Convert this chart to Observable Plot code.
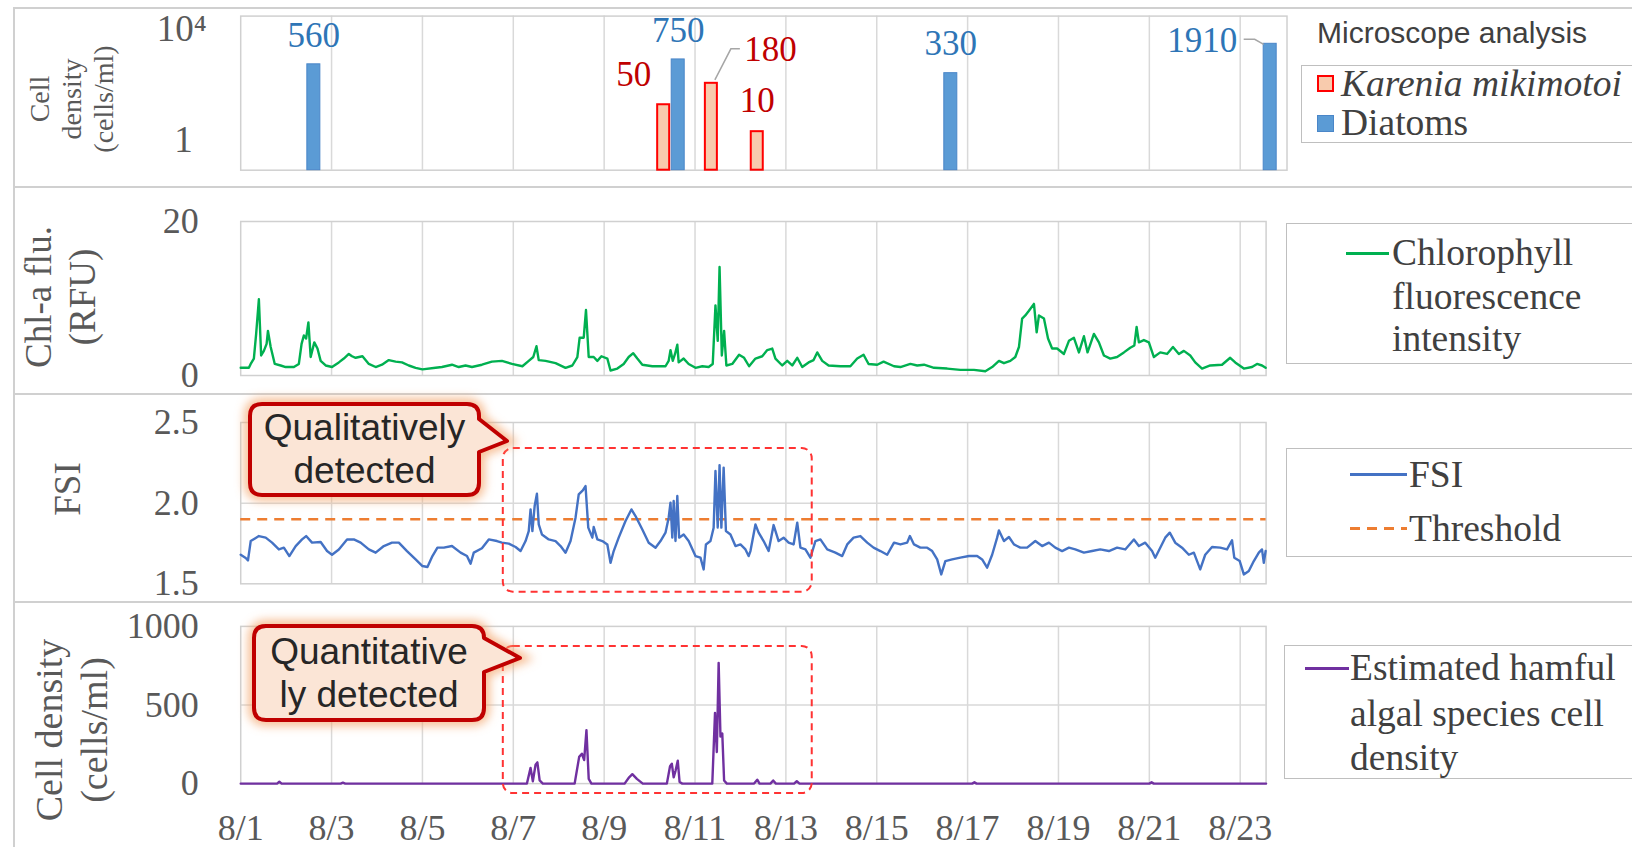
<!DOCTYPE html>
<html><head><meta charset="utf-8">
<script src="https://cdn.jsdelivr.net/npm/d3@7"></script>
<script src="https://cdn.jsdelivr.net/npm/@observablehq/plot@0.6"></script>
<style>
body{margin:0;background:#fff;}
#root{position:relative;width:1632px;height:847px;overflow:hidden;background:#fff;font-family:"Liberation Serif",serif;}
#root svg{position:absolute;left:0;}
.hl{position:absolute;left:13px;width:1640px;height:0;border-top:2px solid #d0d0d0;}
.vl{position:absolute;left:13px;top:8px;width:0;height:860px;border-left:2px solid #d0d0d0;}
.box{position:absolute;border:1.5px solid #bfbfbf;background:#fff;box-sizing:border-box;}
.t{position:absolute;white-space:nowrap;color:#404040;font-size:37.5px;line-height:1;transform:translateY(-50%);}
.ttl{position:absolute;white-space:nowrap;color:#595959;text-align:center;transform:translate(-50%,-50%) rotate(-90deg);}
.sw{position:absolute;box-sizing:border-box;}
</style></head>
<body><div id="root"></div>
<script>
// ---------------- data ----------------
const xTicks = [0,2,4,6,8,10,12,14,16,18,20,22];
const xTickLabels = ["8/1","8/3","8/5","8/7","8/9","8/11","8/13","8/15","8/17","8/19","8/21","8/23"];
const gridDays = [2,4,6,8,10,12,14,16,18,20,22];

// Microscope analysis (days after 8/1 00:00, cells/ml)
const diatomDay = [1.61, 9.63, 15.63, 22.66];
const diatomVal = [560, 750, 330, 1910];
const kareniaDay = [9.31, 10.36, 11.37];
const kareniaVal = [50, 180, 10];

// Chlorophyll fluorescence (RFU)
const chlDay = [0,0.18,0.22,0.29,0.34,0.40,0.45,0.51,0.57,0.60,0.66,0.75,0.88,0.99,1.17,1.28,1.34,1.39,1.44,1.49,1.54,1.62,1.69,1.76,1.87,2.01,2.16,2.27,2.38,2.45,2.53,2.68,2.82,2.97,3.11,3.26,3.41,3.55,3.70,3.85,4.00,4.29,4.43,4.65,4.80,4.95,5.09,5.31,5.53,5.75,5.97,6.20,6.34,6.44,6.51,6.56,6.71,6.93,7.15,7.30,7.41,7.46,7.55,7.60,7.66,7.77,7.85,7.94,8.07,8.14,8.29,8.43,8.54,8.64,8.73,8.84,9.06,9.35,9.42,9.46,9.51,9.56,9.61,9.64,9.75,9.86,10.01,10.16,10.30,10.39,10.45,10.50,10.54,10.59,10.64,10.69,10.82,10.97,11.08,11.19,11.33,11.48,11.59,11.70,11.77,11.92,12.03,12.14,12.25,12.36,12.50,12.61,12.69,12.80,12.94,13.20,13.42,13.57,13.71,13.82,14.01,14.15,14.38,14.52,14.74,14.89,15.04,15.26,15.55,15.84,16.14,16.39,16.54,16.69,16.80,16.94,17.05,17.13,17.20,17.27,17.35,17.46,17.52,17.57,17.68,17.77,17.86,17.97,18.12,18.23,18.34,18.45,18.56,18.64,18.78,18.89,19.00,19.14,19.29,19.44,19.58,19.67,19.72,19.77,19.88,19.99,20.10,20.24,20.39,20.52,20.65,20.76,20.90,21.01,21.16,21.34,21.60,21.78,21.89,22.08,22.26,22.37,22.48,22.56];
const chlVal = [1.0,1.0,1.5,2.2,5.4,9.9,2.6,3.2,4.1,5.8,3.7,1.5,1.3,1.1,1.1,1.5,4.1,5.2,4.8,6.9,2.4,4.3,3.5,1.9,1.3,1.1,1.7,2.2,2.8,2.5,2.3,2.5,1.5,1.1,1.4,2.0,1.8,1.7,1.3,1.0,0.8,1.0,1.1,1.4,1.1,1.3,1.1,1.4,1.8,1.9,1.5,1.2,1.9,2.4,3.8,2.0,1.9,1.6,1.0,1.3,2.4,4.9,4.9,8.5,2.4,2.4,1.9,2.5,2.2,0.65,0.9,1.5,2.4,2.9,2.2,1.4,1.2,1.2,1.9,3.3,1.9,2.8,4.0,1.7,2.2,1.5,1.0,1.2,1.1,1.5,9.1,4.5,14.1,2.6,5.8,1.3,1.5,2.7,2.3,1.2,2.2,2.5,3.3,3.5,2.2,1.3,1.9,1.3,2.3,1.1,1.7,2.0,3.0,1.9,1.3,1.2,1.2,2.2,2.7,1.5,1.4,1.8,1.2,1.1,1.5,1.3,1.4,1.0,0.9,0.73,0.73,0.56,1.1,1.9,1.6,1.9,2.4,3.7,7.4,7.8,8.4,9.3,5.6,7.8,7.4,4.8,3.5,3.5,2.8,4.5,4.9,3.0,5.1,3.0,5.4,4.3,2.6,2.2,2.4,3.0,3.6,3.9,6.3,4.3,4.6,4.3,2.4,3.0,2.8,3.7,2.8,3.2,2.6,1.7,0.9,1.3,1.4,2.3,1.7,0.9,1.1,1.5,1.3,1.0];

// FSI
const fsiDay = [0,0.11,0.16,0.22,0.40,0.55,0.69,0.84,0.95,1.07,1.21,1.35,1.44,1.57,1.76,1.90,2.01,2.16,2.34,2.49,2.64,2.82,2.97,3.15,3.33,3.48,3.66,3.85,4.00,4.11,4.22,4.33,4.47,4.65,4.84,4.98,5.06,5.13,5.31,5.46,5.64,5.75,5.90,6.05,6.16,6.27,6.34,6.38,6.42,6.47,6.52,6.56,6.63,6.78,6.93,7.04,7.15,7.26,7.37,7.44,7.53,7.59,7.65,7.74,7.77,7.85,7.96,8.07,8.14,8.21,8.32,8.47,8.60,8.69,8.84,8.98,9.13,9.24,9.35,9.42,9.46,9.50,9.53,9.57,9.61,9.65,9.75,9.86,10.01,10.12,10.19,10.24,10.34,10.41,10.45,10.50,10.54,10.58,10.63,10.68,10.78,10.89,11.00,11.11,11.18,11.22,11.33,11.40,11.51,11.62,11.73,11.84,11.95,12.06,12.17,12.25,12.32,12.43,12.54,12.65,12.76,12.91,13.09,13.24,13.35,13.49,13.64,13.79,13.93,14.08,14.23,14.38,14.52,14.67,14.73,14.82,14.96,15.11,15.22,15.33,15.42,15.51,15.66,15.84,16.03,16.21,16.32,16.43,16.54,16.65,16.69,16.80,16.91,17.02,17.16,17.31,17.49,17.64,17.79,17.93,18.08,18.23,18.37,18.56,18.74,18.92,19.11,19.29,19.47,19.66,19.77,19.91,20.06,20.13,20.24,20.35,20.45,20.57,20.72,20.87,20.98,21.12,21.23,21.38,21.56,21.71,21.82,21.87,21.99,22.08,22.19,22.30,22.41,22.48,22.52,22.56];
const fsiVal = [1.68,1.66,1.645,1.765,1.796,1.786,1.755,1.713,1.724,1.672,1.734,1.775,1.796,1.755,1.759,1.703,1.68,1.713,1.775,1.775,1.755,1.713,1.693,1.734,1.755,1.755,1.703,1.651,1.61,1.604,1.672,1.724,1.724,1.734,1.693,1.672,1.625,1.693,1.72,1.775,1.765,1.755,1.749,1.728,1.703,1.765,1.827,1.961,1.827,1.982,2.058,1.868,1.806,1.775,1.765,1.734,1.693,1.765,1.91,2.054,2.079,2.106,1.848,1.786,1.852,1.775,1.765,1.744,1.63,1.703,1.786,1.889,1.961,1.92,1.837,1.755,1.724,1.765,1.817,1.91,2.003,1.786,2.013,1.765,2.044,1.786,1.806,1.765,1.672,1.662,1.589,1.744,1.765,1.848,2.199,1.848,2.236,1.848,2.22,1.827,1.806,1.734,1.744,1.713,1.672,1.703,1.868,1.817,1.765,1.703,1.864,1.765,1.786,1.755,1.744,1.879,1.724,1.713,1.662,1.765,1.775,1.713,1.693,1.672,1.744,1.786,1.796,1.755,1.724,1.703,1.68,1.755,1.744,1.755,1.796,1.744,1.724,1.724,1.703,1.651,1.558,1.641,1.651,1.662,1.672,1.672,1.651,1.6,1.68,1.786,1.831,1.765,1.79,1.744,1.724,1.724,1.765,1.734,1.755,1.724,1.703,1.724,1.713,1.693,1.703,1.713,1.703,1.724,1.713,1.775,1.734,1.755,1.703,1.662,1.724,1.786,1.817,1.755,1.724,1.68,1.693,1.589,1.68,1.728,1.724,1.713,1.77,1.662,1.641,1.558,1.579,1.641,1.693,1.713,1.63,1.703];
const fsiThreshold = 1.9;

// Estimated harmful algal species cell density (cells/ml)
const habDay = [0,0.80,0.85,0.90,2.20,2.25,2.30,6.30,6.38,6.43,6.49,6.53,6.58,6.65,7.35,7.45,7.51,7.56,7.61,7.66,7.72,8.45,8.55,8.62,8.72,8.85,9.38,9.45,9.49,9.53,9.57,9.62,9.66,9.72,10.38,10.44,10.48,10.52,10.56,10.60,10.64,10.70,11.30,11.37,11.42,11.66,11.72,11.78,12.18,12.24,12.30,16.10,16.15,16.20,20.00,20.05,20.10,22.57];
const habVal = [0,0,12,0,0,6,0,0,100,15,120,135,20,0,0,170,190,150,340,30,0,0,40,60,30,0,0,110,126,40,80,146,10,0,0,450,200,768,300,318,20,0,0,25,0,0,20,0,0,15,0,0,8,0,0,8,0,0];

// detection window of the dashed boxes (days after 8/1)
const detectWindow = [5.78, 12.58];

// ---------------- layout ----------------
const root = document.getElementById("root");
const X0 = 240.2;
const baseStyle = {fontFamily:"Liberation Serif, serif", fontSize:"36px", color:"#595959", background:"transparent", overflow:"visible"};
const gridCol = "#d9d9d9";
function place(svg, top){ svg.style.top = top + "px"; root.appendChild(svg); return svg; }

const bars = (days, vals) => days.map((d,i)=>({day:d, v:vals[i]}));
const diatoms = bars(diatomDay, diatomVal);
const karenia = bars(kareniaDay, kareniaVal);
const chl = chlDay.map((d,i)=>({day:d, v:chlVal[i]}));
const fsi = fsiDay.map((d,i)=>({day:d, v:fsiVal[i]}));
const hab = habDay.map((d,i)=>({day:d, v:habVal[i]}));

// frames of the panel blocks
for (const y of [8, 187, 393.5, 601.6]) { const d=document.createElement("div"); d.className="hl"; d.style.top=(y-1)+"px"; root.appendChild(d); }
{ const d=document.createElement("div"); d.className="vl"; root.appendChild(d); }

// Panel 1: microscope analysis (log scale)
const p1 = Plot.plot({
  width:1632, height:187, marginLeft:X0, marginRight:345.5, marginTop:15.6, marginBottom:17.3,
  style: baseStyle,
  x:{domain:[0,23.03], axis:null},
  y:{type:"log", domain:[1,1e4], axis:null},
  marks:[
    Plot.ruleX(gridDays, {stroke:gridCol, strokeWidth:1.5}),
    Plot.frame({stroke:"#d0d0d0", strokeWidth:1.5}),
    Plot.rect(karenia, {x1:"day", x2:"day", y1:d=>1, y2:"v", insetLeft:-6, insetRight:-6, fill:"#f8cbad", stroke:"#ff0000", strokeWidth:2}),
    Plot.rect(diatoms, {x1:"day", x2:"day", y1:d=>1, y2:"v", insetLeft:-6.5, insetRight:-6.5, fill:"#5b9bd5", stroke:"#4a86c8", strokeWidth:1}),
    Plot.text(diatoms.filter(d=>d.v!==1910), {x:"day", y:"v", text:d=>String(d.v), dy:-29, fill:"#2e75b6", fontSize:35}),
    Plot.text(diatoms.filter(d=>d.v===1910), {x:"day", y:"v", text:d=>String(d.v), dx:-68, dy:-3, fill:"#2e75b6", fontSize:35}),
    Plot.text(karenia.filter(d=>d.v===50), {x:"day", y:"v", text:d=>String(d.v), dx:-30, dy:-30, fill:"#c00000", fontSize:35}),
    Plot.text(karenia.filter(d=>d.v===180), {x:"day", y:"v", text:d=>String(d.v), dx:59, dy:-34, fill:"#c00000", fontSize:35}),
    Plot.text(karenia.filter(d=>d.v===10), {x:"day", y:"v", text:d=>String(d.v), dy:-31, fill:"#c00000", fontSize:35}),
    Plot.text([1e4], {y:d=>d, text:d=>"10⁴", frameAnchor:"left", textAnchor:"end", dx:-34, dy:13, fill:"#595959", fontSize:37}),
    Plot.text([1], {y:d=>d, text:d=>"1", frameAnchor:"left", textAnchor:"end", dx:-48, dy:-30, fill:"#595959", fontSize:37})
  ]
});
place(p1, 0);
try {
  const sx = p1.scale("x"), sy = p1.scale("y");
  const leaders = [
    {day:kareniaDay[1], v:kareniaVal[1], pts:[[4,-3],[20,-34],[29,-34]]},
    {day:diatomDay[3], v:diatomVal[3], pts:[[-26,-4],[-15,-4],[-6,1]]}
  ];
  for (const L of leaders) {
    const X = sx.apply(L.day), Y = sy.apply(L.v);
    d3.select(p1).append("path").attr("d", d3.line()(L.pts.map(([a,b])=>[X+a,Y+b])))
      .attr("fill","none").attr("stroke","#a6a6a6").attr("stroke-width",1.5);
  }
} catch(e) {}

// Panel 2: chlorophyll fluorescence
const p2 = Plot.plot({
  width:1632, height:206.5, marginLeft:X0, marginRight:366.4, marginTop:34, marginBottom:18.5,
  style: baseStyle,
  x:{domain:[0,22.57], axis:null},
  y:{domain:[0,20], ticks:[0,20], tickFormat:d=>String(d), tickSize:0, tickPadding:42, label:null},
  marks:[
    Plot.ruleX(gridDays, {stroke:gridCol, strokeWidth:1.5}),
    Plot.frame({stroke:"#d0d0d0", strokeWidth:1.5}),
    Plot.line(chl, {x:"day", y:"v", stroke:"#00b050", strokeWidth:2.4})
  ]
});
place(p2, 187);

// Panel 3: FSI
const p3 = Plot.plot({
  width:1632, height:208.1, marginLeft:X0, marginRight:366.4, marginTop:28, marginBottom:18.8,
  style: baseStyle,
  x:{domain:[0,22.57], axis:null},
  y:{domain:[1.5,2.5], ticks:[1.5,2.0,2.5], tickFormat:".1f", tickSize:0, tickPadding:42, label:null},
  marks:[
    Plot.ruleX(gridDays, {stroke:gridCol, strokeWidth:1.5}),
    Plot.ruleY([2.0], {stroke:gridCol, strokeWidth:1.5}),
    Plot.frame({stroke:"#d0d0d0", strokeWidth:1.5}),
    Plot.ruleY([fsiThreshold], {stroke:"#ed7d31", strokeWidth:2.5, strokeDasharray:"10,7"}),
    Plot.line(fsi, {x:"day", y:"v", stroke:"#4472c4", strokeWidth:2.4}),
    Plot.rect([detectWindow], {x1:d=>d[0], x2:d=>d[1], fill:"none", stroke:"#ff3333", strokeWidth:2, strokeDasharray:"7,5", rx:10, insetTop:26, insetBottom:-8.4})
  ]
});
place(p3, 393.5);

// Panel 4: estimated cell density
const p4 = Plot.plot({
  width:1632, height:245.4, marginLeft:X0, marginRight:366.4, marginTop:23.9, marginBottom:64.3,
  style: baseStyle,
  x:{domain:[0,22.57], ticks:xTicks, tickFormat:d=>xTickLabels[xTicks.indexOf(d)], tickSize:0, tickPadding:31, label:null},
  y:{domain:[0,1000], ticks:[0,500,1000], tickFormat:d=>String(d), tickSize:0, tickPadding:42, label:null},
  marks:[
    Plot.ruleX(gridDays, {stroke:gridCol, strokeWidth:1.5}),
    Plot.ruleY([500], {stroke:gridCol, strokeWidth:1.5}),
    Plot.frame({stroke:"#d0d0d0", strokeWidth:1.5}),
    Plot.line(hab, {x:"day", y:"v", stroke:"#7030a0", strokeWidth:2.4}),
    Plot.rect([detectWindow], {x1:d=>d[0], x2:d=>d[1], fill:"none", stroke:"#ff3333", strokeWidth:2, strokeDasharray:"7,5", rx:10, insetTop:20, insetBottom:-10})
  ]
});
place(p4, 601.6);

// ---------------- axis titles ----------------
function title(html, cx, cy, fs, lh){
  const d=document.createElement("div"); d.className="ttl"; d.innerHTML=html;
  d.style.left=cx+"px"; d.style.top=cy+"px"; d.style.fontSize=fs+"px"; d.style.lineHeight=lh+"px";
  root.appendChild(d);
}
title("Cell<br>density<br>(cells/ml)", 72, 99, 28, 32);
title("Chl-a flu.<br>(RFU)", 61, 297, 37, 44);
title("FSI", 68, 489, 37, 40);
title("Cell density<br>(cells/ml)", 71.5, 730, 38, 45);

// ---------------- legends ----------------
function box(l,t,w,h){ const d=document.createElement("div"); d.className="box"; Object.assign(d.style,{left:l+"px",top:t+"px",width:w+"px",height:h+"px"}); root.appendChild(d); }
function txt(s,l,cy,extra){ const d=document.createElement("div"); d.className="t"; d.innerHTML=s; d.style.left=l+"px"; d.style.top=cy+"px"; if(extra) Object.assign(d.style,extra); root.appendChild(d); }
function sw(l,t,w,h,st){ const d=document.createElement("div"); d.className="sw"; Object.assign(d.style,{left:l+"px",top:t+"px",width:w+"px",height:h+"px"},st); root.appendChild(d); }

txt("Microscope analysis", 1317, 33, {fontFamily:"Liberation Sans, sans-serif", fontSize:"30px", color:"#404040"});
box(1301, 64.5, 400, 78);
sw(1317, 75, 17, 17, {background:"#f8cbad", border:"2px solid #ff0000"});
txt("<i>Karenia mikimotoi</i>", 1341, 84);
sw(1317, 114.5, 17, 17, {background:"#5b9bd5", border:"1px solid #4a86c8"});
txt("Diatoms", 1341, 123);

box(1286, 222.7, 400, 141.3);
sw(1346, 251.5, 43, 3, {background:"#00b050"});
txt("Chlorophyll", 1392, 253); txt("fluorescence", 1392, 296.6); txt("intensity", 1392, 339);

box(1286, 447.5, 400, 109.5);
sw(1350, 473.3, 57, 3, {background:"#4472c4"});
txt("FSI", 1409, 474.6);
sw(1350, 527.2, 57, 3, {background:"repeating-linear-gradient(to right,#ed7d31 0 10px,transparent 10px 17px)"});
txt("Threshold", 1409, 528.7);

box(1284, 645, 400, 133.5);
sw(1305, 666.5, 44, 3, {background:"#7030a0"});
txt("Estimated hamful", 1350, 668); txt("algal species cell", 1350, 714); txt("density", 1350, 758);

// ---------------- callouts ----------------
const NS="http://www.w3.org/2000/svg";
const ov = document.createElementNS(NS,"svg");
ov.setAttribute("width",1632); ov.setAttribute("height",847); ov.style.top="0px"; ov.style.pointerEvents="none";
ov.innerHTML = `<defs><filter id="glow" x="-20%" y="-30%" width="140%" height="160%"><feGaussianBlur stdDeviation="5"/></filter></defs>`;
root.appendChild(ov);
function callout(x0,y0,x1,y1,yA,yB,tx,ty,lines,cy0,lh){
  const r=12;
  const d=`M${x0+r},${y0}H${x1-r}Q${x1},${y0} ${x1},${y0+r}V${yA}L${tx},${ty}L${x1},${yB}V${y1-r}Q${x1},${y1} ${x1-r},${y1}H${x0+r}Q${x0},${y1} ${x0},${y1-r}V${y0+r}Q${x0},${y0} ${x0+r},${y0}Z`;
  const g=d3.select(ov).append("g");
  g.append("path").attr("d",d).attr("fill","none").attr("stroke","#f4a46a").attr("stroke-width",12).attr("stroke-opacity",0.7).attr("filter","url(#glow)");
  g.append("path").attr("d",d).attr("fill","#fbe5d6").attr("stroke","#c00000").attr("stroke-width",4).attr("stroke-linejoin","round");
  lines.forEach((s,i)=>g.append("text").attr("text-anchor","middle").attr("x",(x0+x1)/2).attr("y",cy0+i*lh).attr("dy","0.36em")
    .attr("font-family","Liberation Sans, Arial, sans-serif").attr("font-size",37).attr("fill","#262626").text(s));
}
callout(250,404,479,495,419,452,507,441,["Qualitatively","detected"],427,43);
callout(254,626,484,720,638,672,520,658,["Quantitative","ly detected"],650.5,43.5);
</script>
</body></html>
